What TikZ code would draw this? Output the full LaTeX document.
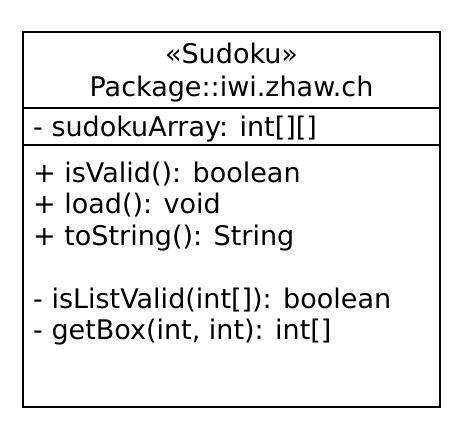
\documentclass[tikz,border=0pt]{standalone}
\usepackage{fontspec}
\setmainfont{DejaVu Sans}
\begin{document}
\begin{tikzpicture}[x=1pt,y=-1pt,
  lbl/.style={inner sep=0pt,anchor=base west,font=\fontsize{27}{27}\selectfont},
  ttl/.style={inner sep=0pt,anchor=base,font=\fontsize{27}{27}\selectfont},
  frame/.style={draw=black,line width=1.2pt}]
\useasboundingbox (0,0) rectangle (460,426);
\draw[frame] (23,32) rectangle (440,407);
\draw[frame] (23,108) -- (440,108);
\draw[frame] (23,145) -- (440,145);
\node[ttl] (stereo) at (231.5,63) {«Sudoku»};
\node[ttl] (name) at (231.5,96) {Package::iwi.zhaw.ch};
\node[lbl] (a1) at (33,136) {- sudokuArray: int[][]};
\node[lbl] (m1) at (33,182) {+ isValid(): boolean};
\node[lbl] (m2) at (33,213.5) {+ load(): void};
\node[lbl] (m3) at (33,245) {+ toString(): String};
\node[lbl] (m4) at (33,308) {- isListValid(int[]): boolean};
\node[lbl] (m5) at (33,339.5) {- getBox(int, int): int[]};
\end{tikzpicture}
\end{document}
